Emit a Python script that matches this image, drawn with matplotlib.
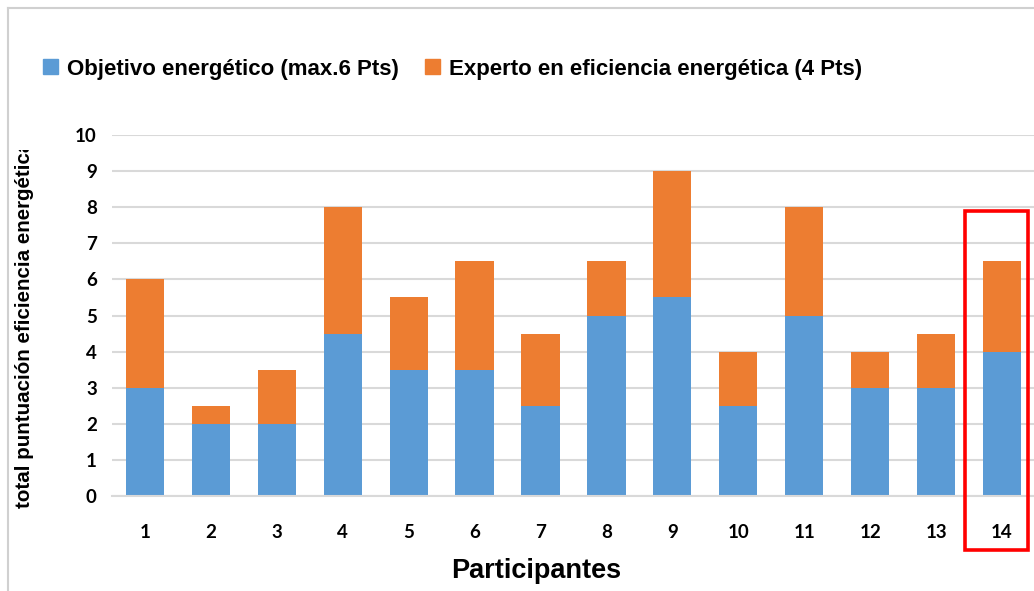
import matplotlib
matplotlib.use('agg')
import matplotlib.pyplot as plt
from matplotlib.patches import Rectangle, Patch
from matplotlib.lines import Line2D

participantes = ["1", "2", "3", "4", "5", "6", "7", "8", "9", "10", "11", "12", "13", "14"]
objetivo = [3, 2, 2, 4.5, 3.5, 3.5, 2.5, 5, 5.5, 2.5, 5, 3, 3, 4]
experto = [3, 0.5, 1.5, 3.5, 2, 3, 2, 1.5, 3.5, 1.5, 3, 1, 1.5, 2.5]
yticks = [0, 1, 2, 3, 4, 5, 6, 7, 8, 9, 10]
destacado = 13  # participante 14

azul = "#5B9BD5"
naranja = "#ED7D31"
gris = "#D9D9D9"

fig = plt.figure(figsize=(10.34, 5.91), dpi=100)
ax = fig.add_axes([0.1083, 0.1607, 0.8926, 0.6108])

x = range(len(participantes))
ax.bar(x, objetivo, width=0.58, color=azul, zorder=2)
ax.bar(x, experto, width=0.58, bottom=objetivo, color=naranja, zorder=2)

ax.set_xlim(-0.5, len(participantes) - 0.5)
ax.set_ylim(0, 10)
ax.set_yticks(yticks)
ax.set_xticks(list(x))
ax.set_xticklabels(participantes)
ax.yaxis.grid(True, color=gris, linewidth=1.5, zorder=0)
for s in ["top", "right", "left"]:
    ax.spines[s].set_visible(False)
ax.spines["bottom"].set_color(gris)
ax.spines["bottom"].set_linewidth(1.5)
ax.tick_params(length=0)
ax.tick_params(axis="x", pad=20)
ax.tick_params(axis="y", pad=11)
for lab in ax.get_xticklabels() + ax.get_yticklabels():
    lab.set_family(["Lato", "DejaVu Sans"])
    lab.set_fontweight("bold")
    lab.set_fontsize(13.5)

# recuadro rojo alrededor del participante 14
ax.add_patch(Rectangle((destacado - 0.56, -1.5), 0.95, 9.39, fill=False,
                       edgecolor="red", linewidth=2.6, clip_on=False, zorder=5))

fig.text(536 / 1034, 1 - 571 / 591, "Participantes", ha="center", va="center",
         fontsize=19.5, fontweight="bold", family=["Liberation Sans", "DejaVu Sans"])

# etiqueta del eje y, cortada por arriba
fig.text(25 / 1034, 1 - 508 / 591, "total puntuación eficiencia energética",
         rotation=90, ha="center", va="bottom", fontsize=14.8,
         fontweight="bold", family=["Liberation Sans", "DejaVu Sans"])
fig.add_artist(Rectangle((10 / 1034, 1 - 150 / 591), 28 / 1034, 140 / 591,
                         transform=fig.transFigure, facecolor="white",
                         edgecolor="none", zorder=10))

handles = [Patch(color=azul), Patch(color=naranja)]
fig.legend(handles, ["Objetivo energético (max.6 Pts)", "Experto en eficiencia energética (4 Pts)"],
           loc="center left", bbox_to_anchor=(0.042, 1 - 69 / 591), ncol=2, frameon=False,
           handlelength=0.65, handleheight=0.65, handletextpad=0.4, columnspacing=1.2,
           borderaxespad=0, borderpad=0,
           prop={"family": ["Liberation Sans", "DejaVu Sans"], "weight": "bold", "size": 16})

# marco exterior del gráfico
fig.add_artist(Line2D([8 / 1034, 1], [1 - 8 / 591, 1 - 8 / 591], transform=fig.transFigure,
                      color="#D0D0D0", linewidth=1.5, zorder=11))
fig.add_artist(Line2D([8 / 1034, 8 / 1034], [0, 1 - 8 / 591], transform=fig.transFigure,
                      color="#D0D0D0", linewidth=1.5, zorder=11))

fig.savefig("out.png", dpi=100)
plt.close(fig)
